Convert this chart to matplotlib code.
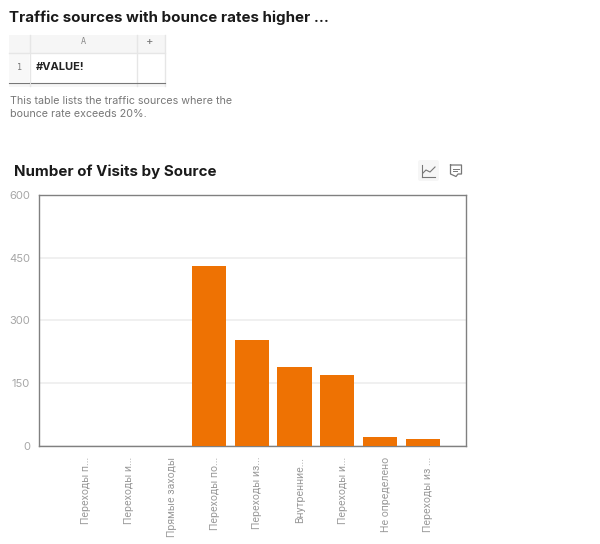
import matplotlib
matplotlib.use('Agg')
import matplotlib.pyplot as plt
from matplotlib.lines import Line2D
from matplotlib.patches import Rectangle, FancyBboxPatch
from matplotlib.transforms import ScaledTranslation

W, H = 600, 544

sources = ['Переходы п...', 'Переходы и...', 'Прямые заходы', 'Переходы по...', 'Переходы из...',
           'Внутренние...', 'Переходы и...', 'Не определено', 'Переходы из ...']
visits = [0, 0, 0, 430, 252, 187, 168, 21, 15]
y_ticks = [0, 150, 300, 450, 600]

plt.rcParams['font.family'] = ['Inter', 'DejaVu Sans']

fig = plt.figure(figsize=(W / 100, H / 100), dpi=100)


def ptext(x, y, s, **kw):
    fig.text(x / W, 1 - y / H, s, va='center', **kw)


def pline(x0, y0, x1, y1, color, lw=1):
    fig.add_artist(Line2D([x0 / W, x1 / W], [1 - y0 / H, 1 - y1 / H], color=color, lw=lw))


def prect(x0, y0, x1, y1, color):
    fig.add_artist(Rectangle((x0 / W, 1 - y1 / H), (x1 - x0) / W, (y1 - y0) / H, color=color, lw=0,
                             transform=fig.transFigure))


ptext(9, 18, 'Traffic sources with bounce rates higher ...', fontsize=10.88, fontweight='bold', color='#1a1a1a')

# little spreadsheet
prect(9, 35, 165, 53, '#f6f6f6')
prect(9, 53, 29, 82, '#f8f8f8')
prect(9, 83, 165, 87, '#f6f6f6')
pline(29.5, 35, 29.5, 86, '#e6e6e6')
pline(136.5, 35, 136.5, 86, '#e6e6e6')
pline(165, 35, 165, 86, '#e6e6e6')
pline(9, 53, 165, 53, '#e6e6e6')
pline(9, 82.5, 29, 82.5, '#777777', 0.8)
pline(31, 82.5, 165, 82.5, '#777777', 0.8)
ptext(83, 42, 'A', fontsize=6, color='#8a8a8a', ha='center', family='DejaVu Sans Mono')
ptext(150, 42, '+', fontsize=8, color='#777777', ha='center')
ptext(19, 67, '1', fontsize=6, color='#777777', ha='center', family='DejaVu Sans Mono')
ptext(36, 67.5, '#VALUE!', fontsize=8, fontweight='bold', color='#222222')

ptext(10, 100.5, 'This table lists the traffic sources where the', fontsize=7.7, color='#777777')
ptext(10, 114, 'bounce rate exceeds 20%.', fontsize=7.7, color='#777777')

ptext(13.5, 171.5, 'Number of Visits by Source', fontsize=10.85, fontweight='bold', color='#1a1a1a')

# icons top right
fig.add_artist(FancyBboxPatch((418 / W, 1 - 181 / H), 21 / W, 21 / H, boxstyle='round,pad=0,rounding_size=0.004',
                              fc='#f6f6f6', ec='none', transform=fig.transFigure))
pline(422, 165, 422, 177, '#777777', 0.8)
pline(422, 177, 435, 177, '#777777', 0.8)
fig.add_artist(Line2D([423 / W, 426 / W, 430 / W, 435 / W],
                      [1 - 173 / H, 1 - 170 / H, 1 - 172 / H, 1 - 167 / H], color='#777777', lw=0.8))
fig.add_artist(Line2D([a / W for a in [450.5, 461.5, 461.5, 458, 456, 450.5, 450.5]],
                      [1 - b / H for b in [165, 165, 174, 174, 176.5, 174, 165]], color='#777777', lw=0.9))
pline(453, 168.5, 459, 168.5, '#777777', 0.7)
pline(453, 171, 457, 171, '#777777', 0.7)

ax = fig.add_axes([38.5 / W, 1 - 445.5 / H, 427.5 / W, 250.5 / H])
ax.bar(range(len(sources)), visits, width=0.8, color='#ee7203', zorder=3)
ax.set_xlim(-0.99, 9.01)
ax.set_ylim(0, 600)
ax.set_yticks(y_ticks)
ax.set_xticks(range(len(sources)))
ax.set_xticklabels(sources, rotation=90, fontsize=7.55, color='#9a9a9a', family=['Roboto', 'DejaVu Sans'])
ax.tick_params(axis='x', length=0, pad=8)
ax.tick_params(axis='y', length=0, pad=6, labelsize=8, labelcolor='#a6a6a6')
ax.grid(axis='y', color='#eeeeee', lw=1.2, zorder=0)
for s in ax.spines.values():
    s.set_color('#808080')
    s.set_linewidth(1)
# labels sit a little right of the bar centres in the original
shift = ScaledTranslation(5.5 / 100, 0, fig.dpi_scale_trans)
for lab in ax.get_xticklabels():
    lab.set_va('top')
    lab.set_transform(lab.get_transform() + shift)

fig.savefig('out.png', dpi=100)
